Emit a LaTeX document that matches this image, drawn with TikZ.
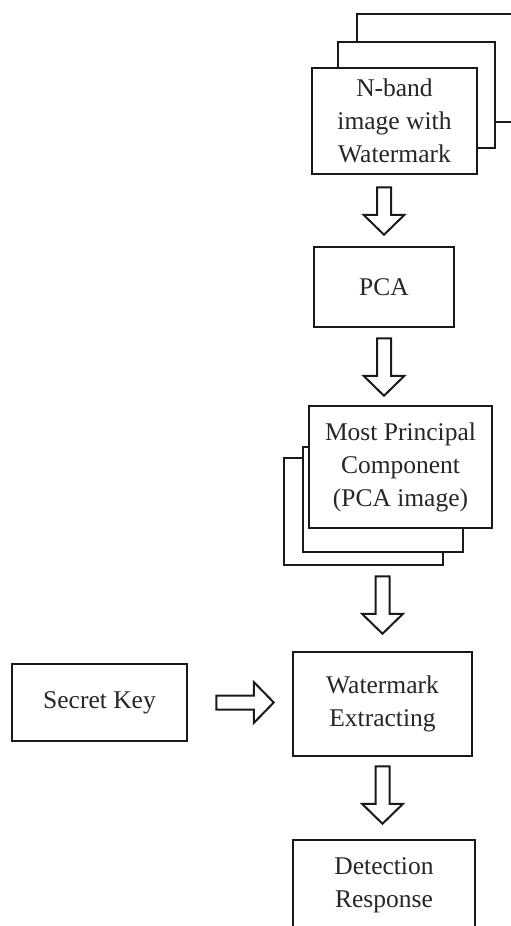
\documentclass[tikz,border=0pt]{standalone}
\usepackage{fontspec}
\setmainfont{Liberation Serif}
\usetikzlibrary{calc}
\begin{document}
\begin{tikzpicture}[x=1pt,y=-1pt,
  frame/.style={draw=black!90, line width=2.5pt, fill=white, inner sep=0pt},
  txt/.style={align=center, text=black!85, font=\fontsize{25.5}{33}\selectfont, inner sep=0pt},
  % hollow block arrow from the start point to the tip
  blockarrow/.style={draw=black!90, line width=2pt, line join=miter, to path={
    ($(\tikztostart)!7pt!90:(\tikztotarget)$)
    -- ($($(\tikztotarget)!20pt!(\tikztostart)$)!7pt!-90:(\tikztostart)$)
    -- ($($(\tikztotarget)!20pt!(\tikztostart)$)!20.5pt!-90:(\tikztostart)$)
    -- (\tikztotarget)
    -- ($($(\tikztotarget)!20pt!(\tikztostart)$)!20.5pt!90:(\tikztostart)$)
    -- ($($(\tikztotarget)!20pt!(\tikztostart)$)!7pt!90:(\tikztostart)$)
    -- ($(\tikztostart)!7pt!-90:(\tikztotarget)$)
    -- cycle}}
]
\useasboundingbox (0,0) rectangle (511,926);
\clip (0,0) rectangle (511,926);

% stacked bands of the input image
\node[frame, minimum width=203, minimum height=108] (nbandb) at (458.5,68) {};
\node[frame, minimum width=157, minimum height=106] (nbandm) at (416.5,95) {};
\node[frame, txt, minimum width=165, minimum height=106] (nband) at (394.5,121)
  {N-band\\image with\\Watermark};

\node[frame, txt, minimum width=140, minimum height=80] (pca) at (384,287) {PCA};

% stacked principal components
\node[frame, minimum width=159, minimum height=107] (mpcb) at (363.5,511.5) {};
\node[frame, minimum width=160, minimum height=105] (mpcm) at (383,499.5) {};
\node[frame, txt, minimum width=183, minimum height=122] (mpc) at (400.5,467)
  {Most Principal\\Component\\(PCA image)};

\node[frame, txt, minimum width=175, minimum height=77] (sk) at (99.5,702.5) {Secret Key};
\node[frame, txt, minimum width=179, minimum height=104] (wm) at (382.5,704)
  {Watermark\\Extracting};

\node[frame, minimum width=182, minimum height=140] (detbox) at (384,910) {};
\node[txt] (det) at (384,885) {Detection\\Response};

% flow arrows
\draw[blockarrow] ($(nband.south -| pca.north)+(0,12)$) to ($(pca.north)+(0,-11)$);
\draw[blockarrow] ($(pca.south)+(0,10)$) to ($(mpc.north -| pca.south)+(0,-9)$);
\draw[blockarrow] ($(mpcb.south -| wm.north)+(0,10)$) to ($(wm.north)+(0,-17)$);
\draw[blockarrow] ($(wm.south)+(0,9)$) to ($(detbox.north -| wm.south)+(0,-15)$);
\draw[blockarrow] ($(sk.east)+(28,0)$) to ($(wm.west |- sk.east)+(-18,0)$);
\end{tikzpicture}
\end{document}
